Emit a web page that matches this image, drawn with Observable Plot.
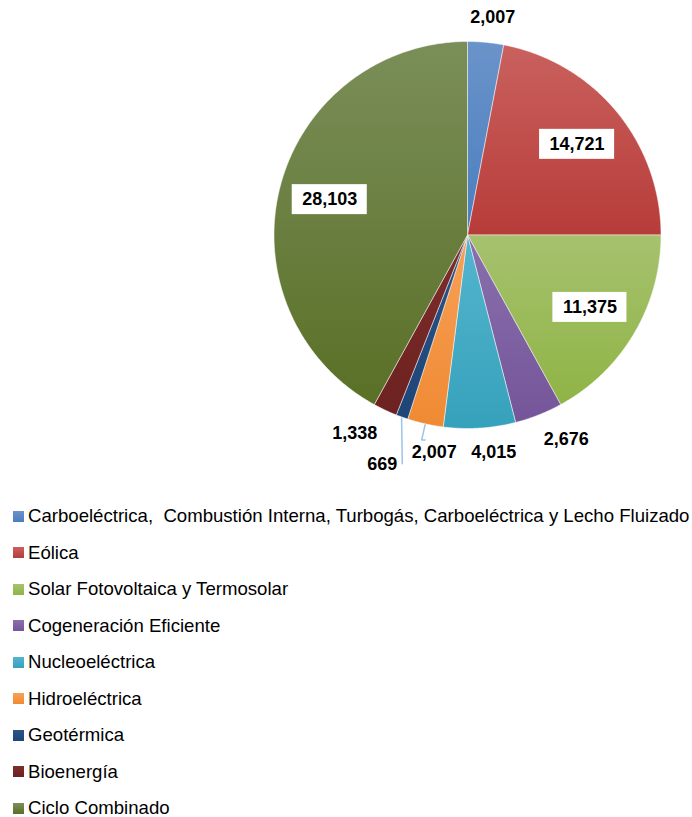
<!DOCTYPE html>
<html><head><meta charset="utf-8">
<script src="https://cdn.jsdelivr.net/npm/d3@7"></script>
<script src="https://cdn.jsdelivr.net/npm/@observablehq/plot@0.6"></script>
<style>
body{margin:0;background:#fff;font-family:"Liberation Sans",Arial,sans-serif;}
#chart svg{display:block;}
#legend{margin:0;padding:0;}
.item{height:36.5px;display:flex;align-items:center;white-space:pre;font-size:18.6px;color:#000;}
.sw{width:11px;height:11px;margin-left:13px;margin-right:4px;flex:none;}
</style></head><body>
<div id="chart"></div><div id="legend"></div>
<script>
const categories = [
  "Carboeléctrica,  Combustión Interna, Turbogás, Carboeléctrica y Lecho Fluizado",
  "Eólica",
  "Solar Fotovoltaica y Termosolar",
  "Cogeneración Eficiente",
  "Nucleoeléctrica",
  "Hidroeléctrica",
  "Geotérmica",
  "Bioenergía",
  "Ciclo Combinado"
];
const values = [2007, 14721, 11375, 2676, 4015, 2007, 669, 1338, 28103];
const colorsTop    = ["#6A93C9","#C9615E","#A6C26E","#8A70AD","#55B5CF","#F8A057","#2C5487","#7D2E2B","#7A8E59"];
const colorsBottom = ["#4A7EBF","#B73C39","#8FB445","#745599","#36A1BB","#EF8A33","#1E4577","#6C2220","#5A7026"];

const W = 692, H = 498;
const cx = 467, cy = 234.5, R = 193.5;
const fmt = d3.format(",");
const total = d3.sum(values);

const data = categories.map((c, i) => ({cat: c, value: values[i], i}));
const arcs = d3.pie().sort(null).value(d => d.value)(data);

const pt = (a, r) => [cx + r * Math.sin(a), cy - r * Math.cos(a)];

// slice polygons
const poly = [];
for (const a of arcs) {
  const n = Math.max(2, Math.ceil((a.endAngle - a.startAngle) / (Math.PI / 360)));
  poly.push({cat: a.data.cat, x: cx, y: cy});
  for (let k = 0; k <= n; k++) {
    const ang = a.startAngle + (a.endAngle - a.startAngle) * k / n;
    const [x, y] = pt(ang, R);
    poly.push({cat: a.data.cat, x, y});
  }
  poly.push({cat: a.data.cat, x: cx, y: cy});
}

// text measurement
const ctx = document.createElement("canvas").getContext("2d");
ctx.font = "bold 18px 'Liberation Sans'";
const tw = s => ctx.measureText(s).width;

const clamp = v => Math.max(-1, Math.min(1, v));
const overlap = (b, c, px, py) => !(b.x2 + px < c.x1 || b.x1 - px > c.x2 || b.y2 + py < c.y1 || b.y1 - py > c.y2);

const inside = [], boxes = [], outs = [];
for (const a of arcs) {
  const mid = (a.startAngle + a.endAngle) / 2;
  const text = fmt(a.data.value);
  if (a.data.value / total > 0.1) {
    const [x, y] = pt(mid, R * 0.735);
    const w = tw(text) + 20, h = 30;
    inside.push({x, y, text});
    boxes.push({x1: x - w / 2, x2: x + w / 2, y1: y - h / 2, y2: y + h / 2});
  } else {
    outs.push({cat: a.data.cat, mid, text, w: tw(text) + 2, h: 18});
  }
}

// outside label placement: greedy search for the nearest free spot
const gap = 16;
function boxAt(o, theta, e) {
  const dx = Math.sin(theta), dy = -Math.cos(theta);
  const [px, py] = pt(theta, R + gap + e);
  const sx = clamp(dx / 0.4), sy = clamp(dy / 0.4);
  const bx = px + sx * o.w / 2, by = py + sy * o.h / 2;
  return {cx: bx, cy: by, x1: bx - o.w / 2, x2: bx + o.w / 2, y1: by - o.h / 2, y2: by + o.h / 2};
}
outs.sort((a, b) => b.mid - a.mid);
const placed = [], outside = [], leaders = [];
for (const o of outs) {
  const nat = boxAt(o, o.mid, 0);
  let best = nat, bestCost = Infinity;
  for (let dd = -15; dd <= 15; dd += 0.25) {
    for (let e = 0; e <= 60; e += 1) {
      const b = boxAt(o, o.mid + dd * Math.PI / 180, e);
      if (placed.some(p => overlap(b, p, 12, 12))) continue;
      const cost = Math.hypot(b.cx - nat.cx, b.cy - nat.cy);
      if (cost < bestCost) { bestCost = cost; best = b; }
    }
  }
  const b = best;
  placed.push(b);
  outside.push({x: b.cx, y: b.cy, text: o.text});
  if (bestCost > 10) {
    const [ex, ey] = pt(o.mid, R + 1);
    let tx, ty;
    if (ex > b.x1 && ex < b.x2) { tx = ex; ty = b.y1 - 3; }
    else if (b.cx < ex) { tx = b.x2 + 4; ty = b.cy; }
    else { tx = b.x1 - 4; ty = b.cy; }
    const dx = Math.sin(o.mid), dy = -Math.cos(o.mid);
    const t = (ty - ey) / dy;
    const kx = ex + dx * t;
    leaders.push({cat: o.cat, x: ex, y: ey});
    if (t > 0 && ((b.cx < ex && kx > tx) || (b.cx >= ex && kx < tx))) leaders.push({cat: o.cat, x: kx, y: ty});
    leaders.push({cat: o.cat, x: tx, y: ty});
  }
}

const plot = Plot.plot({
  width: W, height: H, margin: 0,
  x: {domain: [0, W], range: [0, W], axis: null},
  y: {domain: [0, H], range: [0, H], axis: null},
  color: {domain: categories, range: categories.map((_, i) => `url(#grad${i})`)},
  marks: [
    Plot.line(poly, {x: "x", y: "y", z: "cat", fill: "cat", stroke: "white", strokeWidth: 0.7, strokeOpacity: 0.7}),
    Plot.line(leaders, {x: "x", y: "y", z: "cat", stroke: "#9DC3E6", strokeWidth: 1.5}),
    Plot.rect(boxes, {x1: "x1", x2: "x2", y1: "y1", y2: "y2", fill: "white"}),
    Plot.text(inside.concat(outside), {x: "x", y: "y", text: "text", fontWeight: "bold", fontSize: 18, fill: "black", fontFamily: "Liberation Sans"})
  ]
});

const svg = d3.select(plot);
const defs = svg.insert("defs", ":first-child");
categories.forEach((_, i) => {
  const g = defs.append("linearGradient").attr("id", `grad${i}`).attr("x1", 0).attr("y1", 0).attr("x2", 0).attr("y2", 1);
  g.append("stop").attr("offset", "0%").attr("stop-color", colorsTop[i]);
  g.append("stop").attr("offset", "100%").attr("stop-color", colorsBottom[i]);
});
document.getElementById("chart").appendChild(plot);

const legend = d3.select("#legend");
categories.forEach((c, i) => {
  const it = legend.append("div").attr("class", "item");
  it.append("div").attr("class", "sw").style("background", `linear-gradient(${colorsTop[i]}, ${colorsBottom[i]})`);
  it.append("span").text(c);
});
</script>
</body></html>
